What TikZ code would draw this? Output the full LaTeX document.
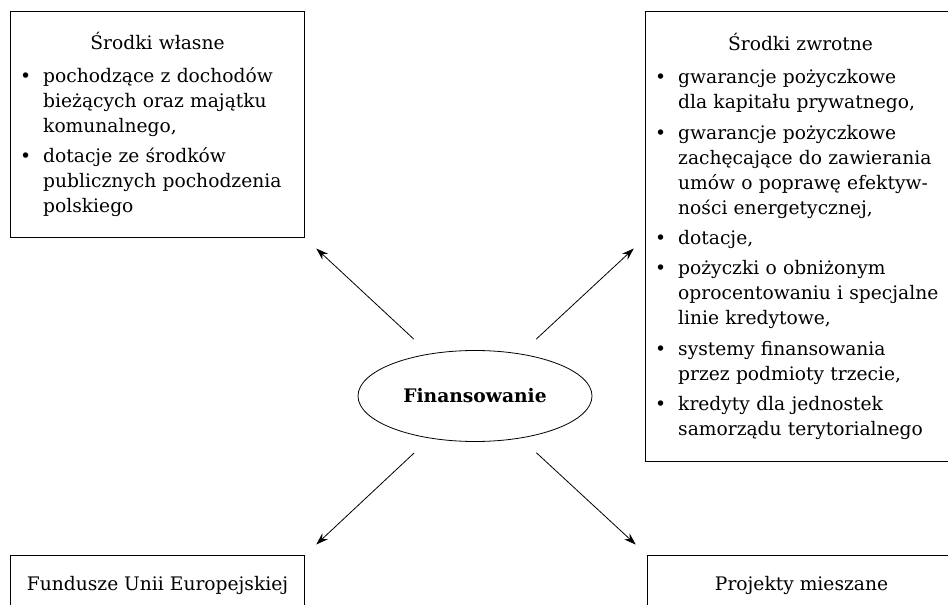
\documentclass[tikz,border=0pt]{standalone}
\usepackage{fontspec}
\setmainfont{DejaVu Serif}
\usepackage{enumitem}
\usepackage{tikz}
\usetikzlibrary{shapes.geometric,arrows.meta,positioning,calc}
\setlist[itemize]{leftmargin=20pt,labelsep=9pt,itemsep=4pt,parsep=0pt,topsep=6pt,partopsep=0pt,label=\textbullet}

\tikzset{
    txt/.style={font=\fontsize{14}{18.75}\selectfont},
    box/.style={draw, line width=0.8pt, anchor=north west, inner xsep=4.5pt, inner ysep=0pt, txt},
    listbox/.style={box, text width=#1},
    oval/.style={draw, ellipse, line width=0.6pt, minimum width=175.5pt, minimum height=68.25pt, inner sep=0pt, font=\fontsize{14}{18.75}\selectfont\bfseries},
    arr/.style={-{Stealth[length=9pt,width=6pt]}, line width=0.6pt, shorten <=16pt, shorten >=11.5pt}
}

\begin{document}
\begin{tikzpicture}[x=0.75pt, y=-0.75pt]
    \path[use as bounding box, clip] (0,0) rectangle (948,605);

    % sources of own money
    \node[listbox=211.5pt, minimum height=169.5pt] (own) at (10,11) {
        {\centering Środki własne\par}
        \raggedright
        \begin{itemize}
            \item pochodzące z dochodów\newline bieżących oraz majątku\newline komunalnego,
            \item dotacje ze środków\newline publicznych pochodzenia\newline polskiego
        \end{itemize}
    };

    % returnable money
    \node[listbox=223.5pt, minimum height=337.5pt] (ret) at (645,11) {
        {\centering Środki zwrotne\par}
        \raggedright
        \begin{itemize}
            \item gwarancje pożyczkowe\newline dla kapitału prywatnego,
            \item gwarancje pożyczkowe\newline zachęcające do zawierania\newline umów o poprawę efektyw-\newline ności energetycznej,
            \item dotacje,
            \item pożyczki o obniżonym\newline oprocentowaniu i specjalne\newline linie kredytowe,
            \item systemy finansowania\newline przez podmioty trzecie,
            \item kredyty dla jednostek\newline samorządu terytorialnego
        \end{itemize}
    };

    % bottom boxes, cut by the page edge
    \node[box, minimum width=220.5pt, minimum height=45pt] (eu) at (10,555) {Fundusze Unii Europejskiej};
    \node[box, minimum width=231pt, minimum height=45pt] (mix) at (647,555) {Projekty mieszane};

    \node[oval] (fin) at (475,396) {Finansowanie};

    \draw[arr] (fin) -- (own.south east);
    \draw[arr] (fin) -- (ret.west |- own.south east);
    \draw[arr] (fin) -- (eu.north east);
    \draw[arr] (fin) -- (mix.north west);
\end{tikzpicture}
\end{document}
